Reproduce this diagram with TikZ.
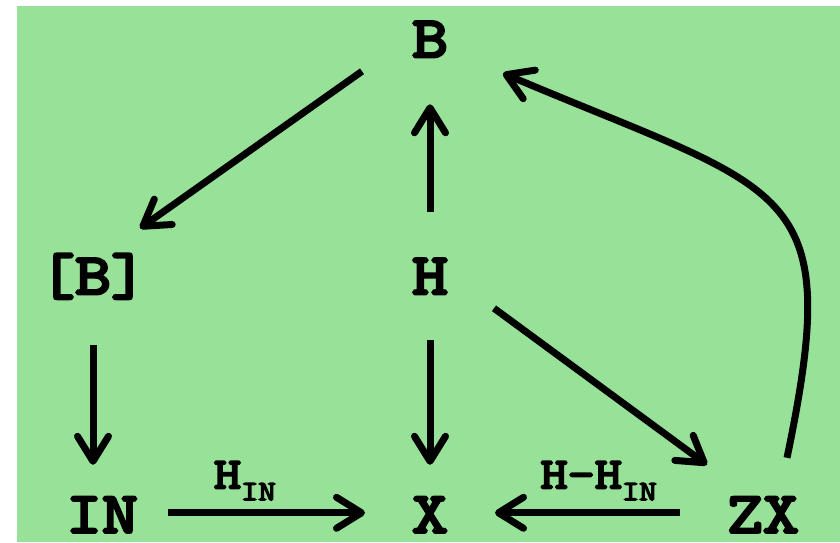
\documentclass[tikz,border=0pt]{standalone}
\usepackage{fontspec}
\setmonofont{Latin Modern Mono}[BoldFont=Latin Modern Mono, BoldFeatures={FakeBold=5,FakeStretch=1.2}]
\usetikzlibrary{arrows.meta}
\definecolor{paleGreen}{RGB}{152,225,152}

\begin{document}
\begin{tikzpicture}
  \tikzstyle{label}=[font=\ttfamily\bfseries\fontsize{33}{33}\selectfont, inner sep=0pt, anchor=base]
  \tikzstyle{edgelab}=[font=\ttfamily\bfseries\fontsize{25}{25}\selectfont, inner sep=0pt]
  \tikzstyle{arr}=[-{Straight Barb[length=0.5cm,width=0.62cm,round]}, line width=0.14cm]
  \newcommand{\sub}[1]{\raisebox{-0.24cm}{\fontsize{16}{16}\selectfont #1}}

  \useasboundingbox (0,0) rectangle (16.8,10.84);
  \fill[paleGreen] (0.34,0) rectangle (16.8,10.72);

  \node[label] (B)  at (8.6,9.70)  {B};
  \node[label] (BB) at (1.86,4.96) {[B]};
  \node[label] (H)  at (8.6,4.96)  {H};
  \node[label] (IN) at (2.04,0.19) {IN};
  \node[label] (X)  at (8.6,0.19)  {X};
  \node[label] (ZX) at (15.26,0.19) {ZX};

  \draw[arr] ([shift={(-1.36,-0.64)}]B.center) -- ([shift={(0.94,0.96)}]BB.center);
  \draw[arr] ([shift={(0,1.28)}]H.center) -- ([shift={(0,-1.3)}]B.center);
  \draw[arr] ([shift={(0,-1.38)}]BB.center) -- ([shift={(-0.18,1.0)}]IN.center);
  \draw[arr] ([shift={(0,-1.28)}]H.center) -- ([shift={(0,1.0)}]X.center);
  \draw[arr] ([shift={(1.28,-0.64)}]H.center) -- ([shift={(-1.12,1.0)}]ZX.center);
  \draw[arr] ([shift={(1.32,0.04)}]IN.center) --
    node[edgelab, pos=0.39, above=0.18cm] {H\sub{IN}} ([shift={(-1.3,0.04)}]X.center);
  \draw[arr] ([shift={(-1.66,0.04)}]ZX.center) --
    node[edgelab, pos=0.44, above=0.18cm] {H-H\sub{IN}} ([shift={(1.3,0.04)}]X.center);
  % long way back up to B
  \draw[arr] ([shift={(0.48,1.14)}]ZX.center)
    .. controls (16.9,7.24) and (15.8,6.94) .. ([shift={(1.46,-0.68)}]B.center);
\end{tikzpicture}
\end{document}
